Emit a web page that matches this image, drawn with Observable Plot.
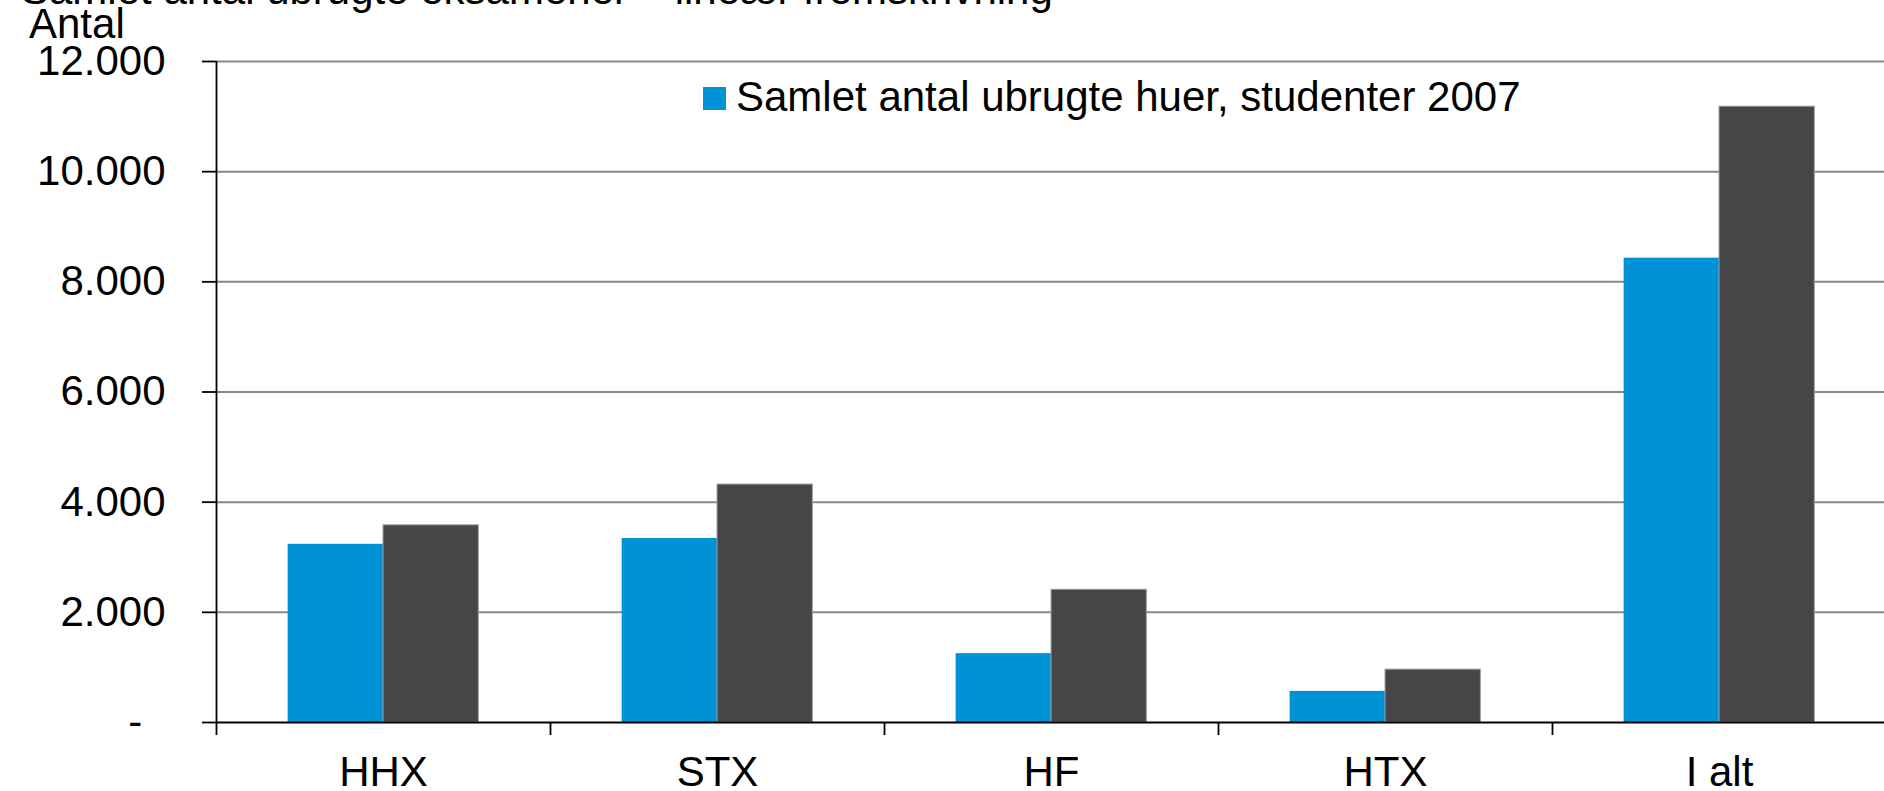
<!DOCTYPE html>
<html>
<head>
<meta charset="utf-8">
<script src="https://cdn.jsdelivr.net/npm/d3@7"></script>
<script src="https://cdn.jsdelivr.net/npm/@observablehq/plot@0.6"></script>
<style>
  html, body { margin: 0; padding: 0; background: #fff; overflow: hidden; }
  #wrap { position: relative; width: 1884px; height: 791px; font-family: "Liberation Sans", Arial, sans-serif; color: #000; }
  .txt { position: absolute; font-size: 42px; line-height: 42px; white-space: nowrap; }
  #legend-swatch { position: absolute; background: #0092d7; }
</style>
</head>
<body>
<div id="wrap">
  <div id="chart"></div>
  <div class="txt" id="title" style="left:21px; top:-31px;"></div>
  <div class="txt" id="ylabel" style="left:29px; top:3px;"></div>
  <div id="legend-swatch" style="left:703px; top:87px; width:23px; height:23px;"></div>
  <div class="txt" id="legend-text" style="left:736px; top:76px;"></div>
</div>
<script>
// ---- data ----
const categories = ["HHX", "STX", "HF", "HTX", "I alt"];
const seriesNames = ["Samlet antal ubrugte huer, studenter 2007", "Fremskrivning"];
const huerValues = [3235, 3340, 1250, 565, 8430];
const fremskrivningValues = [3580, 4320, 2410, 960, 11180];
const yTicks = [0, 2000, 4000, 6000, 8000, 10000, 12000];
const titleText = "Samlet antal ubrugte eksamener – lineær fremskrivning";
const yLabelText = "Antal";

document.getElementById("title").textContent = titleText;
document.getElementById("ylabel").textContent = yLabelText;
document.getElementById("legend-text").textContent = seriesNames[0];

const rowsA = categories.map((c, i) => ({category: c, series: seriesNames[0], value: huerValues[i]}));
const rowsB = categories.map((c, i) => ({category: c, series: seriesNames[1], value: fremskrivningValues[i]}));

const locale = d3.formatLocale({decimal: ",", thousands: ".", grouping: [3], currency: ["", " kr."]});
const fmtNum = locale.format(",d");
const fmt = d => d === 0 ? "-\u00a0\u00a0" : fmtNum(d);

const W = 1884, H = 791, ML = 216, MT = 61, MB = 69;
const xRange = [ML, 1886];
const step = (xRange[1] - xRange[0]) / categories.length;
const half = step / 2;
const gap = step * 0.2145;

const chart = Plot.plot({
  width: W,
  height: H,
  marginLeft: ML,
  marginRight: 0,
  marginTop: MT,
  marginBottom: MB,
  style: {fontFamily: "'Liberation Sans', Arial, sans-serif", fontSize: "42px", color: "#000", background: "#fff", overflow: "visible"},
  x: {domain: categories, range: xRange, padding: 0, axis: null},
  y: {domain: [0, 12000], axis: null},
  marks: [
    Plot.ruleY(yTicks.filter(d => d > 0), {stroke: "#888888", strokeWidth: 2}),
    Plot.barY(rowsA, {x: "category", y: "value", fill: "#0092d7", insetLeft: gap, insetRight: half}),
    Plot.barY(rowsB, {x: "category", y: "value", fill: "#464646", stroke: "#a0a0a0", strokeWidth: 1, insetLeft: half, insetRight: gap}),
    Plot.ruleY([0], {stroke: "#000", strokeWidth: 1.8}),
    Plot.ruleX([categories[0]], {x: d => d, dx: -half, y1: 12000, y2: 0, insetBottom: -13, stroke: "#000", strokeWidth: 1.8}),
    Plot.ruleX(categories.slice(1), {x: d => d, dx: -half, y1: 0, y2: 0, insetBottom: -13, stroke: "#000", strokeWidth: 1.8}),
    Plot.axisY({ticks: yTicks, tickSize: 14, tickPadding: 37, tickFormat: fmt, strokeWidth: 1.8, fontSize: 42, label: null}),
    Plot.axisX({tickSize: 0, tickPadding: 34, fontSize: 42, label: null})
  ]
});
document.getElementById("chart").appendChild(chart);
</script>
</body>
</html>
